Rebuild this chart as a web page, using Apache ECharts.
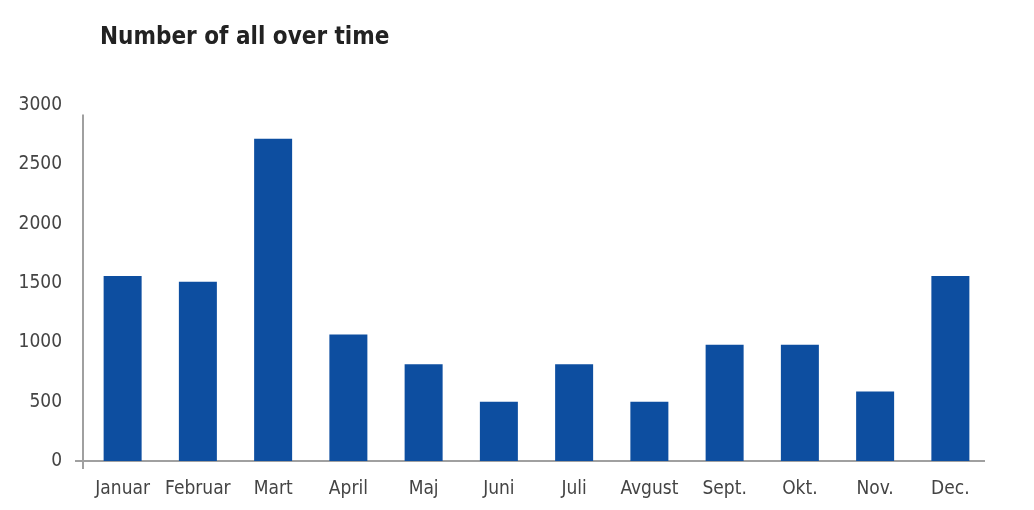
<!DOCTYPE html>
<html>
<head>
<meta charset="utf-8">
<script src="https://cdn.jsdelivr.net/npm/echarts@6/dist/echarts.min.js"></script>
<style>
html,body{margin:0;padding:0;background:#fff;}
#chart{width:1034px;height:510px;}
</style>
</head>
<body>
<div id="chart"></div>
<script>
const titleText = "Number of all over time";
const categories = ["Januar","Februar","Mart","April","Maj","Juni","Juli","Avgust","Sept.","Okt.","Nov.","Dec."];
const values = [1560, 1510, 2715, 1065, 815, 500, 815, 500, 980, 980, 585, 1560];
const yTicks = [0, 500, 1000, 1500, 2000, 2500, 3000];

const FONT = '"Liberation Sans Narrow", "DejaVu Sans Condensed", sans-serif';
const chart = echarts.init(document.getElementById('chart'), null, {renderer: 'canvas'});
chart.setOption({
  animation: false,
  backgroundColor: '#ffffff',
  title: {
    text: titleText,
    left: 95, top: 21,
    textStyle: {fontFamily: FONT, fontWeight: 'bold', fontSize: 24, color: '#222222'}
  },
  grid: {left: 85, right: 46, top: 105, bottom: 49, containLabel: false},
  xAxis: {
    type: 'category',
    data: categories,
    axisLine: {show: false},
    axisTick: {show: false},
    axisLabel: {interval: 0, fontFamily: FONT, fontSize: 19, color: '#444444', margin: 19}
  },
  yAxis: {
    type: 'value',
    min: yTicks[0], max: yTicks[yTicks.length - 1], interval: 500,
    axisLine: {show: false},
    axisTick: {show: false},
    splitLine: {show: false},
    axisLabel: {fontFamily: FONT, fontSize: 19, color: '#444444', margin: 23, formatter: v => String(v)}
  },
  series: [{
    type: 'bar',
    data: values,
    barWidth: 38,
    itemStyle: {color: '#0D4EA0'}
  }]
});

// axis line decorations derived from the axis scales
const gridRect = chart.getModel().getComponent('grid', 0).coordinateSystem.getRect();
const xAx = gridRect.x - 2;
const yZero = chart.convertToPixel({yAxisIndex: 0}, 0);
const yTopVal = chart.convertToPixel({yAxisIndex: 0}, 2920);
chart.setOption({
  graphic: [
    {type: 'line', shape: {x1: xAx, y1: yTopVal, x2: xAx, y2: yZero + 8}, style: {stroke: '#a0a0a0', lineWidth: 2}},
    {type: 'line', shape: {x1: xAx - 8, y1: yZero, x2: gridRect.x + gridRect.width - 3, y2: yZero}, style: {stroke: '#a0a0a0', lineWidth: 2}}
  ]
});
</script>
</body>
</html>
